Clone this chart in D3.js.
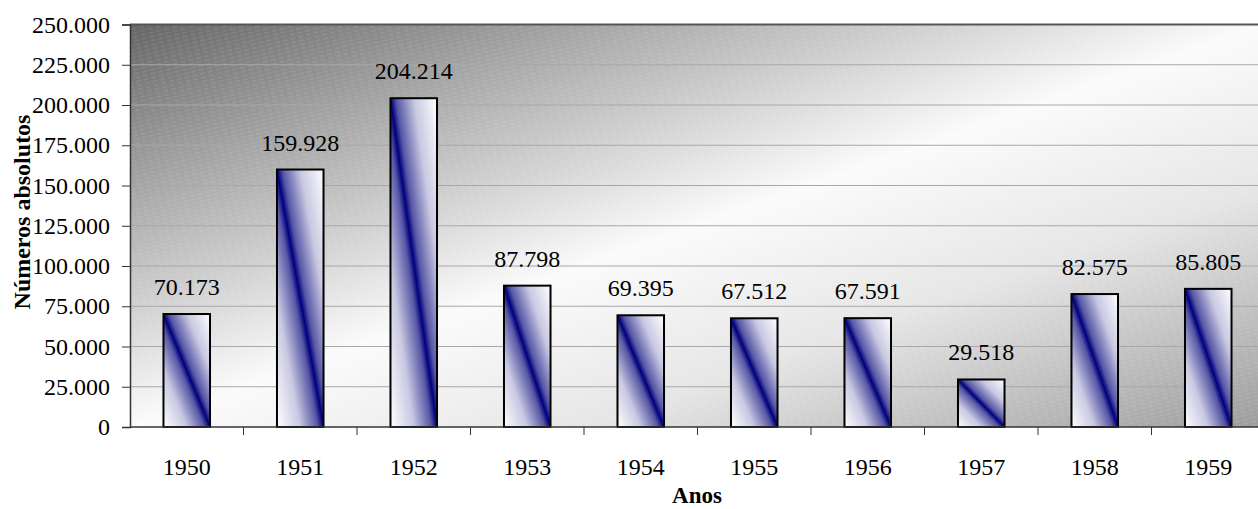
<!DOCTYPE html>
<html>
<head>
<meta charset="utf-8">
<script src="https://cdn.jsdelivr.net/npm/d3@7"></script>
<style>
  html, body { margin: 0; padding: 0; background: #fff; }
  svg { display: block; }
  text { font-family: "Liberation Serif", "Times New Roman", serif; fill: #000; }
</style>
</head>
<body>
<svg id="chart" width="1258" height="509"></svg>
<script>
// Annual totals, 1950–1959
const years = ["1950", "1951", "1952", "1953", "1954", "1955", "1956", "1957", "1958", "1959"];
const values = [70173, 159928, 204214, 87798, 69395, 67512, 67591, 29518, 82575, 85805];
const yTicks = [0, 25000, 50000, 75000, 100000, 125000, 150000, 175000, 200000, 225000, 250000];

const svg = d3.select("#chart");
const W = 1258, H = 509;
const margin = { left: 130, top: 24.5, right: -7, bottom: 82 };
const innerW = W - margin.left - margin.right;
const innerH = H - margin.top - margin.bottom;
const FS = 24;

const fmt = v => v === 0 ? "0" : d3.format(",")(v).replace(/,/g, ".");

const x = d3.scaleBand().domain(years).range([0, innerW]).paddingInner(0.59).paddingOuter(0.295);
const xb = d3.scaleBand().domain(years).range([0, innerW]);
const y = d3.scaleLinear().domain([0, 250000]).range([innerH, 0]);

const defs = svg.append("defs");

// Plot-area backdrop: dark upper-left corner, white diagonal band, grey lower-right
const bg = defs.append("linearGradient").attr("id", "bgGrad")
  .attr("x1", "0").attr("y1", "0").attr("x2", "1").attr("y2", "1");
bg.append("stop").attr("offset", "0").attr("stop-color", "#666666");
bg.append("stop").attr("offset", "0.2").attr("stop-color", "#a4a4a4");
bg.append("stop").attr("offset", "0.5").attr("stop-color", "#fbfbfb");
bg.append("stop").attr("offset", "0.7").attr("stop-color", "#e6e6e6");
bg.append("stop").attr("offset", "1").attr("stop-color", "#9c9c9c");

// Faint dashed texture over the backdrop
const pat = defs.append("pattern").attr("id", "texture")
  .attr("width", 8).attr("height", 4).attr("patternUnits", "userSpaceOnUse")
  .attr("patternTransform", "rotate(-14)");
pat.append("line").attr("x1", 0).attr("x2", 5).attr("y1", 1).attr("y2", 1)
  .attr("stroke", "#ffffff").attr("stroke-width", 0.8).attr("stroke-opacity", 0.18);

// Bar fill: navy diagonal band between white edges
const bar = defs.append("linearGradient").attr("id", "barGrad")
  .attr("x1", "0").attr("y1", "1").attr("x2", "1").attr("y2", "0");
bar.append("stop").attr("offset", "0").attr("stop-color", "#ffffff");
bar.append("stop").attr("offset", "0.25").attr("stop-color", "#c8c8e2");
bar.append("stop").attr("offset", "0.44").attr("stop-color", "#5656a6");
bar.append("stop").attr("offset", "0.5").attr("stop-color", "#00007c");
bar.append("stop").attr("offset", "0.56").attr("stop-color", "#5656a6");
bar.append("stop").attr("offset", "0.75").attr("stop-color", "#c8c8e2");
bar.append("stop").attr("offset", "1").attr("stop-color", "#ffffff");

const g = svg.append("g").attr("transform", `translate(${margin.left},${margin.top})`);

g.append("rect").attr("width", innerW).attr("height", innerH).attr("fill", "url(#bgGrad)");
g.append("rect").attr("width", innerW).attr("height", innerH).attr("fill", "url(#texture)");

// Horizontal gridlines
g.append("g").selectAll("line").data(yTicks.filter(t => t > 0 && t < 250000)).join("line")
  .attr("x1", 0).attr("x2", innerW)
  .attr("y1", d => y(d)).attr("y2", d => y(d))
  .attr("stroke", "#a8a8a8").attr("stroke-width", 1);

// Top border of plot area
g.append("line").attr("x1", 0).attr("x2", innerW).attr("y1", 0).attr("y2", 0)
  .attr("stroke", "#555").attr("stroke-width", 2);

// Bars
g.append("g").selectAll("rect").data(values).join("rect")
  .attr("x", (d, i) => x(years[i]))
  .attr("y", d => y(d))
  .attr("width", x.bandwidth())
  .attr("height", d => innerH - y(d))
  .attr("fill", "url(#barGrad)")
  .attr("stroke", "#000").attr("stroke-width", 2);

// Value labels
g.append("g").selectAll("text").data(values).join("text")
  .attr("x", (d, i) => x(years[i]) + x.bandwidth() / 2)
  .attr("y", d => y(d) - 19)
  .attr("text-anchor", "middle")
  .attr("font-size", FS)
  .text(d => fmt(d));

// Y axis
const yAxis = g.append("g").call(d3.axisLeft(y).tickValues(yTicks).tickFormat(fmt).tickSize(8).tickPadding(12));
yAxis.select(".domain").attr("stroke", "#333").attr("stroke-width", 1.5);
yAxis.selectAll(".tick line").attr("stroke", "#333");
yAxis.selectAll("text").attr("font-size", FS).attr("font-family", "Liberation Serif, serif").attr("fill", "#000");

// X axis: ticks at category boundaries
const xAxisG = g.append("g").attr("transform", `translate(0,${innerH})`);
xAxisG.append("line").attr("x1", 0).attr("x2", innerW).attr("stroke", "#333").attr("stroke-width", 1.5);
xAxisG.selectAll("line.tk").data(years.slice(1)).join("line").attr("class", "tk")
  .attr("x1", d => xb(d)).attr("x2", d => xb(d)).attr("y1", 0).attr("y2", 8)
  .attr("stroke", "#333");
xAxisG.selectAll("text").data(years).join("text")
  .attr("x", d => xb(d) + xb.bandwidth() / 2)
  .attr("y", 48)
  .attr("text-anchor", "middle")
  .attr("font-size", FS)
  .text(d => d);

// Axis titles
svg.append("text")
  .attr("transform", "translate(30,212) rotate(-90)")
  .attr("text-anchor", "middle")
  .attr("font-size", FS).attr("font-weight", "bold")
  .text("Números absolutos");

svg.append("text")
  .attr("x", 697)
  .attr("y", 503)
  .attr("text-anchor", "middle")
  .attr("font-size", FS - 1).attr("font-weight", "bold")
  .text("Anos");
</script>
</body>
</html>
